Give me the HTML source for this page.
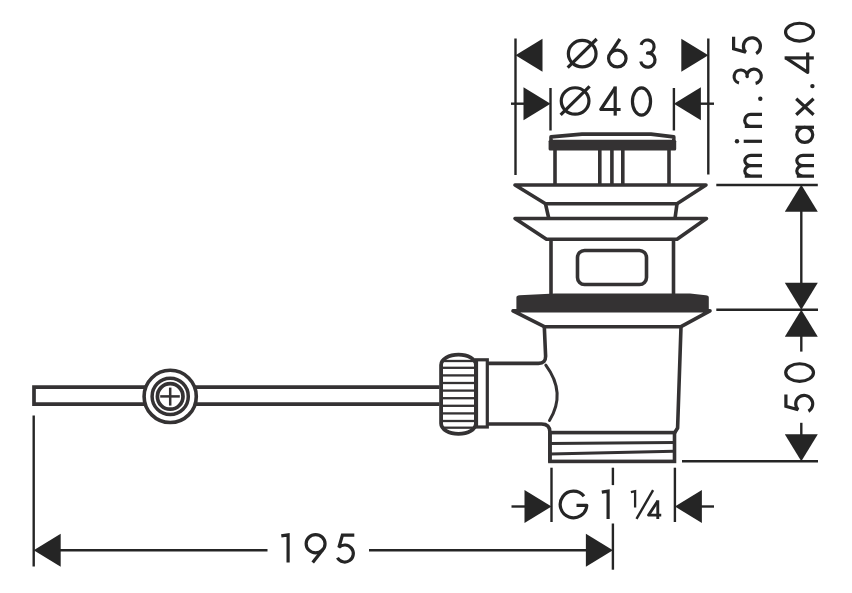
<!DOCTYPE html>
<html><head><meta charset="utf-8"><style>
html,body{margin:0;padding:0;background:#fff;}
body{width:852px;height:593px;overflow:hidden;}
svg{display:block;}
</style></head><body>
<svg width="852" height="593" viewBox="0 0 852 593">
<rect width="852" height="593" fill="#fff"/>
<g stroke="#343233" fill="none">
<g stroke="#252525">
<line x1="515.5" y1="38.5" x2="515.5" y2="175" stroke-width="2.4" stroke-linecap="butt"/>
<line x1="708.3" y1="38.5" x2="708.3" y2="174.5" stroke-width="2.4" stroke-linecap="butt"/>
<path d="M515.5,55.3 L542.5,38.8 L542.5,71.8 Z" fill="#252525" stroke="none"/>
<path d="M708.3,55.3 L681.3,38.8 L681.3,71.8 Z" fill="#252525" stroke="none"/>
<line x1="550.5" y1="88" x2="550.5" y2="130.5" stroke-width="2.4" stroke-linecap="butt"/>
<line x1="673.9" y1="88" x2="673.9" y2="130.5" stroke-width="2.4" stroke-linecap="butt"/>
<line x1="511" y1="103.7" x2="525" y2="103.7" stroke-width="2.4" stroke-linecap="butt"/>
<line x1="699" y1="103.7" x2="714" y2="103.7" stroke-width="2.4" stroke-linecap="butt"/>
<path d="M550.5,103.7 L523.5,87.2 L523.5,120.2 Z" fill="#252525" stroke="none"/>
<path d="M673.9,103.7 L700.9,87.2 L700.9,120.2 Z" fill="#252525" stroke="none"/>
<ellipse cx="582.2" cy="53.650000000000006" rx="13.85" ry="13.2" fill="none" stroke-width="3.2"/>
<line x1="567.7" y1="67.6" x2="596.7" y2="39.0" stroke-width="3.2" stroke-linecap="butt"/>
<ellipse cx="617.3" cy="58.5" rx="8.75" ry="8.45" fill="none" stroke-width="3.2"/>
<line x1="619.9" y1="39.0" x2="610.1300125758501" y2="53.7511811639595" stroke-width="3.2" stroke-linecap="butt"/>
<path d="M641.12,44.89 A6.6,6.6 0 1 1 647.50,53.20 L647.80,52.80 A7.2,7.2 0 1 1 640.76,61.50" fill="none" stroke-width="3.2" stroke-linejoin="round" stroke-linecap="butt" stroke-miterlimit="4"/>
<ellipse cx="575.1" cy="100.95" rx="13.85" ry="13.2" fill="none" stroke-width="3.2"/>
<line x1="560.6" y1="114.9" x2="589.6" y2="86.3" stroke-width="3.2" stroke-linecap="butt"/>
<path d="M615.20,87.60 L600.80,109.50 L620.60,109.50" fill="none" stroke-width="3.2" stroke-linejoin="round" stroke-linecap="butt" stroke-miterlimit="4"/>
<line x1="615.2" y1="86.4" x2="615.2" y2="115.60000000000001" stroke-width="3.2" stroke-linecap="butt"/>
<ellipse cx="641.5" cy="101.45" rx="9.05" ry="13.6" fill="none" stroke-width="3.2"/>
</g><g stroke="#343233">
<path d="M551,140 V136.9 L582,134.1 H651 L673.8,136.9 V140" fill="none" stroke-width="3.6" stroke-linejoin="round" stroke-linecap="butt" stroke-miterlimit="4"/>
<rect x="548.6" y="139.7" width="127.6" height="10.7" rx="1.5" fill="#343233" stroke="none"/>
<line x1="555.0" y1="150" x2="555.0" y2="185" stroke-width="3.6" stroke-linecap="butt"/>
<line x1="599.8" y1="150" x2="599.8" y2="185" stroke-width="3.6" stroke-linecap="butt"/>
<line x1="611.9" y1="150" x2="611.9" y2="185" stroke-width="3.6" stroke-linecap="butt"/>
<line x1="622.8" y1="150" x2="622.8" y2="185" stroke-width="3.6" stroke-linecap="butt"/>
<line x1="669.0" y1="150" x2="669.0" y2="185" stroke-width="3.6" stroke-linecap="butt"/>
<path d="M515,185 H706 L677,203.8 H545.5 Z" fill="none" stroke-width="3.6" stroke-linejoin="round" stroke-linecap="butt" stroke-miterlimit="4"/>
<path d="M545.5,203.8 L548.8,218.5 M677,203.8 L675,218.5" fill="none" stroke-width="3.6" stroke-linejoin="round" stroke-linecap="butt" stroke-miterlimit="4"/>
<path d="M515,218.5 H706.5 L677,239.3 H546.5 Z" fill="none" stroke-width="3.6" stroke-linejoin="round" stroke-linecap="butt" stroke-miterlimit="4"/>
<line x1="551" y1="239.3" x2="551" y2="294" stroke-width="3.6" stroke-linecap="butt"/>
<line x1="673.5" y1="239.3" x2="673.5" y2="294" stroke-width="3.6" stroke-linecap="butt"/>
<rect x="577.5" y="250.5" width="69" height="34" rx="7" fill="none" stroke-width="3.6"/>
<path d="M516.4,312 V297.5 Q516.4,295.4 519.5,295.2 L555,293.4 H690 L705.7,295.2 Q708.8,295.4 708.8,297.5 V312 Z" fill="#343233" stroke="none"/>
<path d="M513,310.8 H710 L681,326.7 H544.3 Z" fill="none" stroke-width="3.6" stroke-linejoin="round" stroke-linecap="butt" stroke-miterlimit="4"/>
<path d="M544.3,326.7 L545.6,356 Q545.8,363.4 538.5,363.4 H487" fill="none" stroke-width="3.6" stroke-linejoin="round" stroke-linecap="butt" stroke-miterlimit="4"/>
<path d="M681,326.7 L677.6,428 L674.5,433" fill="none" stroke-width="3.6" stroke-linejoin="round" stroke-linecap="butt" stroke-miterlimit="4"/>
<path d="M545.8,365.2 Q566.5,393 549.5,420.5" fill="none" stroke-width="3.0" stroke-linejoin="round" stroke-linecap="round" stroke-miterlimit="4"/>
<path d="M487,424 H541.5 Q549.9,424 549.9,432 V462" fill="none" stroke-width="3.6" stroke-linejoin="round" stroke-linecap="butt" stroke-miterlimit="4"/>
<rect x="549.9" y="432.6" width="124.6" height="28.8" fill="none" stroke-width="3.6"/>
<line x1="550" y1="443.5" x2="674" y2="442.6" stroke-width="3.0" stroke-linecap="butt"/>
<line x1="550" y1="454.0" x2="674" y2="451.2" stroke-width="3.0" stroke-linecap="butt"/>
<rect x="476.5" y="359.8" width="10.8" height="67.2" fill="none" stroke-width="3.2"/>
<path d="M441.1,365 A17.4,10.3 0 0 1 475.9,365 V423.5 A17.4,10.3 0 0 1 441.1,423.5 Z" fill="none" stroke-width="3.8" stroke-linejoin="round" stroke-linecap="butt" stroke-miterlimit="4"/>
<line x1="442.5" y1="361.0" x2="474" y2="361.0" stroke-width="2.3" stroke-linecap="butt"/>
<line x1="442.5" y1="367.8" x2="474" y2="367.8" stroke-width="2.3" stroke-linecap="butt"/>
<line x1="442.5" y1="375.4" x2="474" y2="375.4" stroke-width="2.3" stroke-linecap="butt"/>
<line x1="442.5" y1="383.0" x2="474" y2="383.0" stroke-width="2.3" stroke-linecap="butt"/>
<line x1="442.5" y1="390.6" x2="474" y2="390.6" stroke-width="2.3" stroke-linecap="butt"/>
<line x1="442.5" y1="398.2" x2="474" y2="398.2" stroke-width="2.3" stroke-linecap="butt"/>
<line x1="442.5" y1="405.8" x2="474" y2="405.8" stroke-width="2.3" stroke-linecap="butt"/>
<line x1="442.5" y1="413.4" x2="474" y2="413.4" stroke-width="2.3" stroke-linecap="butt"/>
<line x1="442.5" y1="421.0" x2="474" y2="421.0" stroke-width="2.3" stroke-linecap="butt"/>
<line x1="442.5" y1="427.7" x2="474" y2="427.7" stroke-width="2.3" stroke-linecap="butt"/>
<path d="M439.5,387.1 H34 V404.2 H439.5" fill="none" stroke-width="3.7" stroke-linejoin="miter" stroke-linecap="butt" stroke-miterlimit="4"/>
<circle cx="170.2" cy="396.4" r="26.1" fill="#fff" stroke-width="3.6"/>
<circle cx="170.2" cy="396.4" r="18.1" fill="none" stroke-width="3.5"/>
<circle cx="170.2" cy="396.4" r="12.8" fill="none" stroke-width="3.7"/>
<line x1="160.2" y1="396.4" x2="179.8" y2="396.4" stroke-width="2.5" stroke-linecap="butt"/>
<line x1="170.2" y1="387.6" x2="170.2" y2="405.6" stroke-width="2.5" stroke-linecap="butt"/>
</g><g stroke="#252525">
<line x1="33.7" y1="415.5" x2="33.7" y2="566.5" stroke-width="2.4" stroke-linecap="butt"/>
<line x1="60" y1="550.3" x2="267.5" y2="550.3" stroke-width="2.4" stroke-linecap="butt"/>
<line x1="369" y1="550.3" x2="588" y2="550.3" stroke-width="2.4" stroke-linecap="butt"/>
<path d="M33.7,550.3 L60.7,533.8 L60.7,566.8 Z" fill="#252525" stroke="none"/>
<path d="M612.9,550.3 L585.9,533.8 L585.9,566.8 Z" fill="#252525" stroke="none"/>
<path d="M281.30,535.90 L288.10,534.90 V562.50" fill="none" stroke-width="3.2" stroke-linejoin="miter" stroke-linecap="butt" stroke-miterlimit="4"/>
<ellipse cx="315.59999999999997" cy="543.6999999999999" rx="9.45" ry="9.15" fill="none" stroke-width="3.2"/>
<line x1="312.7" y1="562.6" x2="322.94588027557853" y2="549.4033361269405" stroke-width="3.2" stroke-linecap="butt"/>
<path d="M354.30,535.20 H342.40 L338.90,547.39 A8.5,8.5 0 1 1 337.44,557.75" fill="none" stroke-width="3.2" stroke-linejoin="miter" stroke-linecap="butt" stroke-miterlimit="2"/>
<line x1="551.5" y1="467.7" x2="551.5" y2="522" stroke-width="2.4" stroke-linecap="butt"/>
<line x1="674.9" y1="467.7" x2="674.9" y2="522" stroke-width="2.4" stroke-linecap="butt"/>
<line x1="612.9" y1="467.7" x2="612.9" y2="485.1" stroke-width="2.4" stroke-linecap="butt"/>
<line x1="612.9" y1="523.5" x2="612.9" y2="569.7" stroke-width="2.4" stroke-linecap="butt"/>
<line x1="511.5" y1="506.5" x2="526" y2="506.5" stroke-width="2.4" stroke-linecap="butt"/>
<line x1="700" y1="506.5" x2="714" y2="506.5" stroke-width="2.4" stroke-linecap="butt"/>
<path d="M551.5,506.5 L524.5,490.0 L524.5,523.0 Z" fill="#252525" stroke="none"/>
<path d="M674.9,506.5 L701.9,490.0 L701.9,523.0 Z" fill="#252525" stroke="none"/>
<path d="M583.98,496.31 A13.3,13.3 0 1 0 586.77,505.43 L576.50,505.43" fill="none" stroke-width="3.2" stroke-linejoin="round" stroke-linecap="butt" stroke-miterlimit="4"/>
<path d="M601.80,492.20 L608.10,491.20 V518.90" fill="none" stroke-width="3.2" stroke-linejoin="miter" stroke-linecap="butt" stroke-miterlimit="4"/>
<path d="M630.90,492.10 L635.10,491.10 V507.40" fill="none" stroke-width="2.3" stroke-linejoin="miter" stroke-linecap="butt" stroke-miterlimit="4"/>
<line x1="636.5" y1="518.9" x2="653.1" y2="490.2" stroke-width="2.4" stroke-linecap="butt"/>
<path d="M657.78,501.07 L648.57,515.08 L661.24,515.08" fill="none" stroke-width="2.8800000000000003" stroke-linejoin="round" stroke-linecap="butt" stroke-miterlimit="4"/>
<line x1="657.784" y1="500.3" x2="657.784" y2="518.988" stroke-width="2.8800000000000003" stroke-linecap="butt"/>
<line x1="716.3" y1="185" x2="817.8" y2="185" stroke-width="2.4" stroke-linecap="butt"/>
<line x1="716.3" y1="309.7" x2="818" y2="309.7" stroke-width="2.4" stroke-linecap="butt"/>
<line x1="682" y1="461.2" x2="818" y2="461.2" stroke-width="2.4" stroke-linecap="butt"/>
<line x1="801.3" y1="210" x2="801.3" y2="284" stroke-width="2.4" stroke-linecap="butt"/>
<path d="M801.3,184.7 L784.8,211.7 L817.8,211.7 Z" fill="#252525" stroke="none"/>
<path d="M801.3,309.7 L784.8,282.7 L817.8,282.7 Z" fill="#252525" stroke="none"/>
<path d="M801.3,309.7 L784.8,336.7 L817.8,336.7 Z" fill="#252525" stroke="none"/>
<path d="M801.3,461.2 L784.8,434.2 L817.8,434.2 Z" fill="#252525" stroke="none"/>
<line x1="801.3" y1="335" x2="801.3" y2="351.6" stroke-width="2.4" stroke-linecap="butt"/>
<line x1="801.3" y1="422.8" x2="801.3" y2="436" stroke-width="2.4" stroke-linecap="butt"/>
<g transform="translate(762,178) rotate(-90)">
<path d="M1.95,0 V-17.2 M1.95,-11 A5.17,6.2 0 0 1 12.30,-11 V0 M12.30,-11 A5.17,6.2 0 0 1 22.65,-11 V0" fill="none" stroke-width="3.2" stroke-linejoin="round" stroke-linecap="butt" stroke-miterlimit="4"/>
<line x1="36.7" y1="-18.3" x2="36.7" y2="0" stroke-width="3.2" stroke-linecap="butt"/>
<circle cx="36.7" cy="-25" r="2.2" fill="#252525" stroke="none"/>
<path d="M51.55,0 V-17.2 M51.55,-11.3 A6.00,6.0 0 0 1 63.55,-11.3 V0" fill="none" stroke-width="3.2" stroke-linejoin="round" stroke-linecap="butt" stroke-miterlimit="4"/>
<circle cx="79.2" cy="-1.7" r="2.2" fill="#252525" stroke="none"/>
<path d="M95.02,-23.01 A6.6,6.6 0 1 1 101.40,-14.70 L101.70,-15.10 A7.2,7.2 0 1 1 94.66,-6.40" fill="none" stroke-width="3.2" stroke-linejoin="round" stroke-linecap="butt" stroke-miterlimit="4"/>
<path d="M141.20,-28.40 H129.30 L125.80,-16.21 A8.5,8.5 0 1 1 124.34,-5.85" fill="none" stroke-width="3.2" stroke-linejoin="miter" stroke-linecap="butt" stroke-miterlimit="2"/>
</g>
<g transform="translate(814,178) rotate(-90)">
<path d="M1.95,0 V-17.2 M1.95,-11 A5.17,6.2 0 0 1 12.30,-11 V0 M12.30,-11 A5.17,6.2 0 0 1 22.65,-11 V0" fill="none" stroke-width="3.2" stroke-linejoin="round" stroke-linecap="butt" stroke-miterlimit="4"/>
<ellipse cx="43.15" cy="-9.25" rx="7.6" ry="8.0" fill="none" stroke-width="3.2"/>
<line x1="50.75" y1="-18.5" x2="50.75" y2="0" stroke-width="3.2" stroke-linecap="butt"/>
<path d="M63.20,-17.8 L79.20,-0.4 M79.20,-17.8 L63.20,-0.4" fill="none" stroke-width="3.2" stroke-linejoin="round" stroke-linecap="butt" stroke-miterlimit="4"/>
<circle cx="91.9" cy="-1.6" r="2.2" fill="#252525" stroke="none"/>
<path d="M120.10,-28.20 L105.70,-6.30 L125.50,-6.30" fill="none" stroke-width="3.2" stroke-linejoin="round" stroke-linecap="butt" stroke-miterlimit="4"/>
<line x1="120.1" y1="-29.4" x2="120.1" y2="-0.1999999999999993" stroke-width="3.2" stroke-linecap="butt"/>
<ellipse cx="145.85" cy="-14.5" rx="8.9" ry="13.95" fill="none" stroke-width="3.2"/>
</g>
<g transform="translate(814.5,414) rotate(-90)">
<path d="M19.60,-28.60 H7.70 L4.20,-16.41 A8.5,8.5 0 1 1 2.74,-6.05" fill="none" stroke-width="3.2" stroke-linejoin="miter" stroke-linecap="butt" stroke-miterlimit="2"/>
<ellipse cx="41.45" cy="-14.9" rx="8.8" ry="13.9" fill="none" stroke-width="3.2"/>
</g>
</g>
</g>
</svg>
</body></html>
